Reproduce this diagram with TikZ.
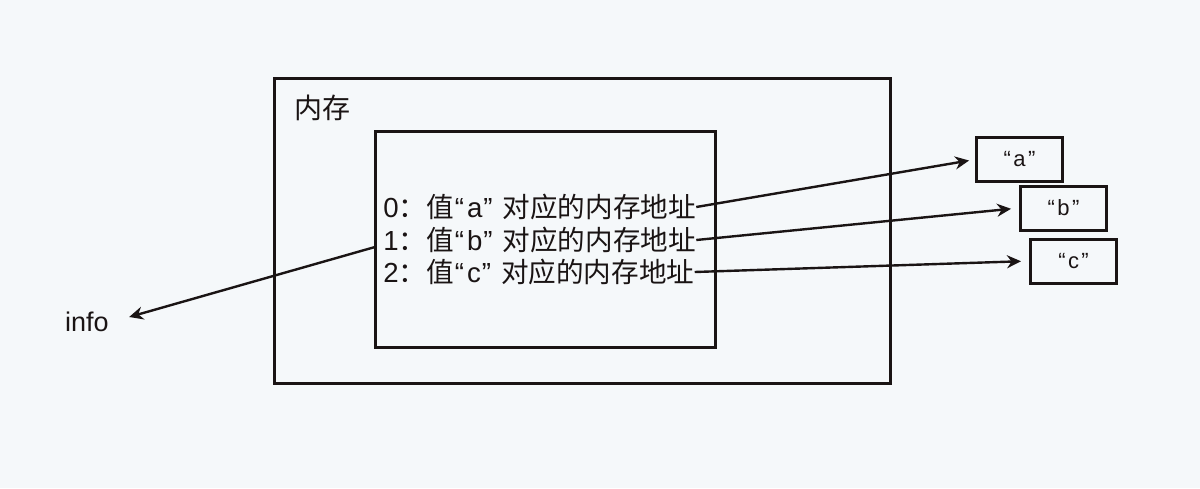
\documentclass[tikz,border=0pt]{standalone}
\usepackage{fontspec}
\setmainfont{Liberation Sans}
\newfontfamily\cjk{Noto Sans CJK SC}
\usetikzlibrary{arrows.meta}
\definecolor{bgcol}{RGB}{245,248,250}
\definecolor{ink}{RGB}{26,20,20}
% quoted letter inside a table entry
\newcommand{\qt}[1]{\kern0.5pt“\kern1.5pt#1\kern0.5pt”\kern5pt}
% quoted letter inside a value box
\newcommand{\qv}[1]{“\kern1.2pt#1\kern1.2pt”}
\begin{document}
\begin{tikzpicture}[x=0.5pt,y=-0.5pt,
  frame/.style={draw=ink,line width=1.5pt,fill=bgcol},
  valbox/.style={draw=ink,line width=1.5pt,minimum width=43pt,minimum height=22pt,inner sep=0pt,
    text=ink,font=\fontsize{11}{13}\selectfont},
  entry/.style={anchor=west,inner sep=0pt,text=ink,font=\fontsize{13.8}{16}\selectfont},
  conn/.style={draw=ink,line width=1.2pt,-{Stealth[length=7pt,width=6.5pt]}}]
\fill[bgcol] (0,0) rectangle (1200,488);
\useasboundingbox (0,0) rectangle (1200,488);

% memory region and the table inside it
\node[frame,minimum width=308pt,minimum height=152.5pt,inner sep=0pt] (memory) at (582,230.5) {};
\node[text=ink,font=\fontsize{14}{16}\selectfont\cjk,inner sep=0pt] (memlabel) at (322,108) {内存};
\node[frame,minimum width=170pt,minimum height=108pt,inner sep=0pt] (inner) at (545,239) {};

\node[entry] (l0) at (383,207) {0{\cjk ：值}\qt{a}{\cjk 对应的内存地址}};
\node[entry] (l1) at (383,240) {1{\cjk ：值}\qt{b}{\cjk 对应的内存地址}};
\node[entry] (l2) at (383,272) {2{\cjk ：值}\qt{c}{\cjk 对应的内存地址}};

% string values
\node[valbox] (ba) at (1019.5,159.5) {\qv{a}};
\node[valbox] (bb) at (1063.5,208) {\qv{b}};
\node[valbox] (bc) at (1073.5,261) {\qv{c}};

\node[text=ink,inner sep=0pt,font=\fontsize{13.5}{16}\selectfont] (info) at (87,322) {info};
\coordinate (src) at (375,247);

% pointers
\draw[conn,shorten >=3pt] (l0.east) -- (ba.west);
\draw[conn,shorten >=4pt] (l1.east) -- (bb.west);
\draw[conn,shorten >=4pt] (l2.east) -- (bc.west);
\draw[conn] (src) -- ([shift={(20,-5)}]info.east);
\end{tikzpicture}
\end{document}
